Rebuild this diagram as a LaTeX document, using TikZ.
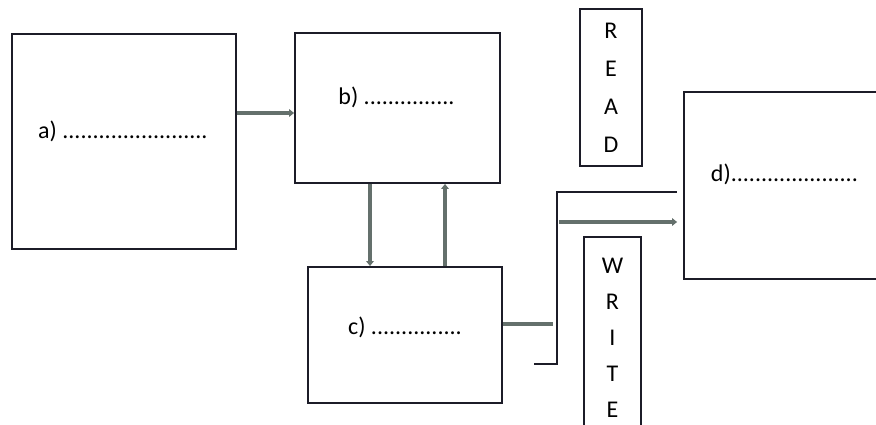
\documentclass[tikz,border=0pt]{standalone}
\usepackage{fontspec}
\setmainfont{Carlito}
\usetikzlibrary{arrows.meta}
\definecolor{boxc}{RGB}{28,28,40}
\definecolor{arrc}{RGB}{100,112,108}
\begin{document}
\begin{tikzpicture}[x=1pt,y=-1pt,
  box/.style={draw=boxc, line width=1.8pt, inner sep=0pt},
  lbl/.style={font=\fontsize{24}{28}\selectfont, inner sep=0pt, anchor=base},
  vtext/.style={align=center, font=\fontsize{24}{38}\selectfont},
  arr/.style={draw=arrc, line width=3.2pt, -{Triangle[length=5pt,width=7.5pt]}},
  plain/.style={draw=arrc, line width=3.2pt},
  thinline/.style={draw=boxc, line width=1.3pt}]
\useasboundingbox (0,0) rectangle (876,425);
\fill[white] (0,0) rectangle (876,425);
% boxes
\node[box, minimum width=224pt, minimum height=215pt] (a) at (124,141.5) {};
\node[box, minimum width=205pt, minimum height=150pt] (b) at (397.5,108) {};
\node[box, minimum width=194pt, minimum height=136pt] (c) at (405,335) {};
\node[box, minimum width=201pt, minimum height=187pt] (d) at (784.5,185.5) {};
\node[box, vtext, minimum width=62pt, minimum height=157pt] (read) at (611,87.5) {R\\E\\A\\D};
\node[box, align=center, font=\fontsize{24}{36}\selectfont, minimum width=57pt, minimum height=202pt] (write) at (612.5,338) {W\\R\\I\\T\\E};
% labels
\node[lbl] (ta) at (123,139) {a) ........................};
\node[lbl] (tb) at (396.5,105) {b) ...............};
\node[lbl] (tc) at (405,334) {c) ...............};
\node[lbl] (td) at (784.5,182) {d).....................};
% connectors
\draw[arr] (a.east |- 0,113) -- (b.west |- 0,113);
\draw[arr] (b.south -| 370,0) -- (c.north -| 370,0);
\draw[arr] (c.north -| 445,0) -- (b.south -| 445,0);
\coordinate (cend) at (553,324);
\draw[plain] (c.east |- cend) -- (cend);
\coordinate (brA) at (534,364);
\coordinate (brB) at (557,364);
\coordinate (brC) at (557,192);
\coordinate (brD) at (677,192);
\draw[thinline] (brA) -- (brB) -- (brC) -- (brD);
\coordinate (wstart) at (559,222);
\draw[arr, shorten >=6pt] (wstart) -- (d.west |- wstart);
\end{tikzpicture}
\end{document}
